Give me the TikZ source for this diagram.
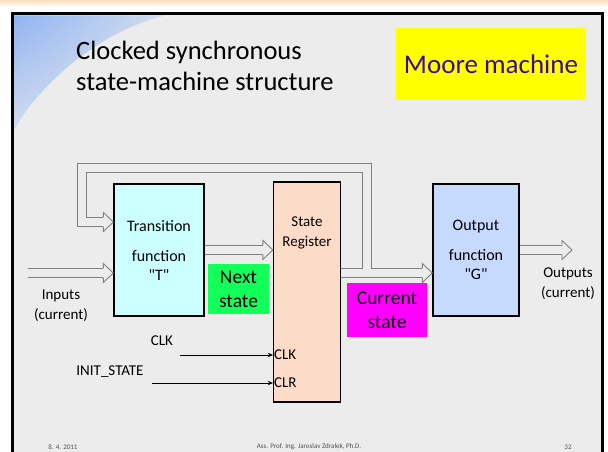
\documentclass[tikz,border=0pt]{standalone}
\usepackage{fontspec}
\setmainfont{Carlito}
\usetikzlibrary{arrows.meta,calc,positioning,shadings}

\definecolor{topbeige}{RGB}{247,225,190}
\definecolor{slidebg}{RGB}{236,236,236}
\definecolor{swoosh}{RGB}{145,180,242}
\definecolor{transcol}{RGB}{204,255,255}
\definecolor{regcol}{RGB}{252,220,200}
\definecolor{outcol}{RGB}{198,217,255}
\definecolor{nextcol}{RGB}{18,255,90}
\definecolor{curcol}{RGB}{255,0,255}
\definecolor{moorey}{RGB}{255,255,0}
\definecolor{mooretext}{RGB}{60,10,140}
\definecolor{busgray}{RGB}{128,128,128}
\definecolor{footgray}{RGB}{80,80,80}

\tikzset{
  fnbox/.style={draw=black, line width=1.3pt, inner sep=0pt, align=center},
  tagbox/.style={inner sep=0pt, align=center, font=\fontsize{19.5}{24}\selectfont},
  lbl/.style={inner sep=0pt, align=center, font=\fontsize{15}{20}\selectfont},
  foot/.style={inner sep=0pt, text=footgray, font=\fontsize{7}{8}\selectfont},
  bus/.style={draw=busgray, line width=0.9pt, double=slidebg, double distance=8.5pt, shorten >=10pt},
  bushead/.style={draw=busgray, fill=slidebg, line width=0.9pt, line join=miter},
  wire/.style={-{Stealth[length=5pt,width=4.5pt]}, line width=0.6pt}
}

% hollow head of a bus arrow, tip at #1
\newcommand{\bushead}[1]{%
  \filldraw[bushead] ($(#1)+(-10,4.7)$) -- ($(#1)+(-10,9.5)$) -- (#1)
    -- ($(#1)+(-10,-9.5)$) -- ($(#1)+(-10,-4.7)$);}

\begin{document}
\begin{tikzpicture}[x=1pt,y=-1pt]
\useasboundingbox (0,0) rectangle (608,452);

% ===== Slide =====
\fill[white] (0,0) rectangle (608,452);
\shade[top color=topbeige, bottom color=white] (0,0) rectangle (608,7);
\draw[line width=3pt, fill=slidebg] (12.5,14) rectangle (602.5,470);
\shade[upper left=swoosh, upper right=slidebg!70!swoosh, lower left=slidebg!70!swoosh, lower right=slidebg]
  (14,15.5) -- (165,15.5) .. controls (110,28) and (45,75) .. (14,130) -- cycle;

% ===== Title =====
\node[anchor=west, align=left, inner sep=0pt, font=\fontsize{26.5}{31}\selectfont] (title) at (76,66) {Clocked synchronous\\state-machine structure};
\node[fill=moorey, minimum width=190, minimum height=72, text=mooretext, font=\fontsize{27}{30}\selectfont] (moore) at (491,64) {Moore machine};

% ===== Blocks =====
\node[fnbox, fill=transcol, minimum width=90, minimum height=132, font=\fontsize{16}{19}\selectfont] (trans) at (159,250) {Transition\\[11pt]function\\\textquotedbl T\textquotedbl};
\node[fnbox, fill=regcol, minimum width=67, minimum height=220] (reg) at (307,292) {};
\node[lbl] (regname) at (307,233) {State\\Register};
\node[fnbox, fill=outcol, minimum width=86, minimum height=132, font=\fontsize{16}{19}\selectfont] (out) at (476,250) {Output\\[11pt]function\\\textquotedbl G\textquotedbl};

\node[tagbox, fill=nextcol, minimum width=61, minimum height=50] (next) at (238.5,289) {Next\\state};
\node[tagbox, fill=curcol, minimum width=80, minimum height=54] (cur) at (387,310) {Current\\state};

% ===== Buses =====
\coordinate (inp) at (28,273);
\coordinate (intip) at (trans.west |- inp);
\draw[bus] (inp) -- (intip);
\bushead{intip}

\coordinate (regtip) at (reg.west |- trans.east);
\draw[bus] (trans.east) -- (regtip);
\bushead{regtip}

\coordinate (busmid) at (367,273);
\coordinate (outtip) at (out.west |- busmid);
\draw[bus] (reg.east |- busmid) -- (outtip);
\bushead{outtip}

% feedback of the current state
\coordinate (fbcorner) at (82,168);
\coordinate (fbtip) at (trans.west |- 0,222);
\draw[bus] (busmid) |- (fbcorner) |- (fbtip);
\bushead{fbtip}
\draw[slidebg, line width=8.5pt] ($(busmid)+(-6,0)$) -- ($(busmid)+(6,0)$);

\coordinate (outend) at (572,250);
\draw[bus] (out.east) -- (outend);
\bushead{outend}

% ===== Clock and clear =====
\coordinate (clkin) at (180,355);
\coordinate (clktip) at (reg.west |- clkin);
\draw[wire] (clkin) -- (clktip);
\node[lbl, right=1pt of clktip] (clkpin) {CLK};

\coordinate (clrin) at (152,383);
\coordinate (clrtip) at (reg.west |- clrin);
\draw[wire] (clrin) -- (clrtip);
\node[lbl, right=1pt of clrtip] (clrpin) {CLR};

% ===== Labels =====
\node[lbl] (clklbl) at (162,341) {CLK};
\node[lbl] (initlbl) at (110,372) {INIT\_STATE};
\node[lbl] (inlbl) at (61,305.5) {Inputs\\(current)};
\node[lbl] (outlbl) at (568,284) {Outputs\\(current)};

% ===== Footer =====
\node[foot] (fdate) at (63,447) {8. 4. 2011};
\node[foot] (fauthor) at (309,447) {Ass. Prof. Ing. Jaroslav Zdralek, Ph.D.};
\node[foot] (fpage) at (568,447) {32};

\end{tikzpicture}
\end{document}
